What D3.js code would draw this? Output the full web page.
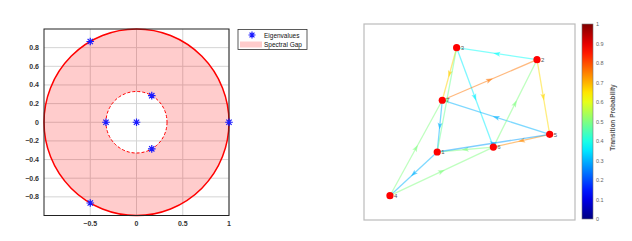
<!DOCTYPE html>
<html>
<head>
<meta charset="utf-8">
<script src="https://cdn.jsdelivr.net/npm/d3@7"></script>
<style>
  body { margin: 0; background: #fff; }
  svg { font-family: "Liberation Sans", Arial, sans-serif; }
</style>
</head>
<body>
<script>
// eigenvalues of the transition matrix (re, im)
const eigRe = [1, -0.5, -0.5, 0, -0.33, 0.165, 0.165];
const eigIm = [0, 0.866, -0.866, 0, 0, 0.285, -0.285];
const gapRadius = 0.33;
const xTicks = [-0.5, 0, 0.5, 1];
const yTicks = [-0.8, -0.6, -0.4, -0.2, 0, 0.2, 0.4, 0.6, 0.8];

// graph nodes (layout units) and edges
const nodeIds = [1, 2, 3, 4, 5, 6, 7];
const nodeX = [34.7, 82.0, 43.9, 12.3, 88.0, 61.3, 37.1];
const nodeY = [34.7, 81.8, 87.9, 12.4, 43.7, 37.2, 61.1];
const edgeFrom = [2, 2, 3, 3, 7, 7, 5, 5, 6, 6, 1, 1, 1, 4, 4];
const edgeTo   = [3, 5, 7, 6, 2, 1, 7, 6, 2, 1, 3, 5, 4, 7, 6];
const edgeProb = [0.38, 0.66, 0.67, 0.36, 0.76, 0.3, 0.3, 0.74, 0.5, 0.5, 0.48, 0.28, 0.3, 0.5, 0.5];
const cbTicks = [0, 0.1, 0.2, 0.3, 0.4, 0.5, 0.6, 0.7, 0.8, 0.9, 1];

const svg = d3.select("body").append("svg")
    .attr("width", 632)
    .attr("height", 241);

function jet(t) {
    const c = v => Math.max(0, Math.min(1, v));
    const r = c(1.5 - Math.abs(4 * t - 3));
    const g = c(1.5 - Math.abs(4 * t - 2));
    const b = c(1.5 - Math.abs(4 * t - 1));
    return d3.rgb(r * 255, g * 255, b * 255).formatHex();
}

// ---------- left: eigenvalue plot ----------
const x = d3.scaleLinear().domain([-1, 1]).range([44, 229]);
const y = d3.scaleLinear().domain([-1, 1]).range([215.5, 29]);

const left = svg.append("g");
left.append("rect")
    .attr("x", 44).attr("y", 29).attr("width", 185).attr("height", 186.5)
    .attr("fill", "#fff");

// grid
left.selectAll(".gx").data(xTicks).enter().append("line")
    .attr("x1", d => x(d)).attr("x2", d => x(d))
    .attr("y1", y(-1)).attr("y2", y(1))
    .attr("stroke", "#d4d4d4").attr("stroke-width", 1);
left.selectAll(".gy").data(yTicks).enter().append("line")
    .attr("x1", x(-1)).attr("x2", x(1))
    .attr("y1", d => y(d)).attr("y2", d => y(d))
    .attr("stroke", "#d4d4d4").attr("stroke-width", 1);

// spectral gap ring
const rx = r => x(r) - x(0);
const ry = r => y(0) - y(r);
function ellipsePath(r, reverse) {
    const a = rx(r), b = ry(r), cx = x(0), cy = y(0);
    const s = reverse ? 0 : 1;
    return `M${cx + a},${cy} A${a},${b} 0 1 ${s} ${cx - a},${cy} A${a},${b} 0 1 ${s} ${cx + a},${cy} Z`;
}
left.append("path")
    .attr("d", ellipsePath(1, false) + ellipsePath(gapRadius, true))
    .attr("fill", "rgb(255,0,0)").attr("fill-opacity", 0.2)
    .attr("fill-rule", "evenodd");
left.append("ellipse")
    .attr("cx", x(0)).attr("cy", y(0)).attr("rx", rx(1)).attr("ry", ry(1))
    .attr("fill", "none").attr("stroke", "#ff0000").attr("stroke-width", 1.5);
left.append("ellipse")
    .attr("cx", x(0)).attr("cy", y(0)).attr("rx", rx(gapRadius)).attr("ry", ry(gapRadius))
    .attr("fill", "none").attr("stroke", "#ff0000").attr("stroke-width", 1)
    .attr("stroke-dasharray", "3,2");

// axes box
left.append("rect")
    .attr("x", 44).attr("y", 29).attr("width", 185).attr("height", 186.5)
    .attr("fill", "none").attr("stroke", "#222").attr("stroke-width", 1);

// ticks
left.selectAll(".tx").data(xTicks).enter().append("text")
    .attr("x", d => x(d)).attr("y", 226)
    .attr("text-anchor", "middle")
    .attr("font-size", 7).attr("font-weight", "bold").attr("fill", "#333")
    .text(d => d3.format("")(d));
left.selectAll(".ty").data(yTicks).enter().append("text")
    .attr("x", 39).attr("y", d => y(d) + 2.5)
    .attr("text-anchor", "end")
    .attr("font-size", 7).attr("font-weight", "bold").attr("fill", "#333")
    .text(d => d3.format("")(d));

// eigenvalue markers
function star(g, cx, cy, s) {
    const d = s * 0.7;
    g.append("path")
        .attr("d", `M${cx - s},${cy}L${cx + s},${cy}M${cx},${cy - s}L${cx},${cy + s}` +
            `M${cx - d},${cy - d}L${cx + d},${cy + d}M${cx - d},${cy + d}L${cx + d},${cy - d}`)
        .attr("stroke", "#1a1aff").attr("stroke-width", 1.2).attr("fill", "none");
}
eigRe.forEach((re, i) => star(left, x(re), y(eigIm[i]), 3.8));

// legend
const lg = svg.append("g");
lg.append("rect")
    .attr("x", 238).attr("y", 29.5).attr("width", 69).attr("height", 20)
    .attr("fill", "#fff").attr("stroke", "#333").attr("stroke-width", 0.8);
star(lg, 252, 35, 3.5);
lg.append("text").attr("x", 264).attr("y", 37.5)
    .attr("font-size", 6.5).attr("fill", "#111").text("Eigenvalues");
lg.append("rect")
    .attr("x", 240).attr("y", 41.5).attr("width", 22).attr("height", 6)
    .attr("fill", "rgb(255,0,0)").attr("fill-opacity", 0.2);
lg.append("text").attr("x", 264).attr("y", 46.5)
    .attr("font-size", 6.5).attr("fill", "#111").text("Spectral Gap");

// ---------- right: transition graph ----------
const gx = d3.scaleLinear().domain([0, 100]).range([364, 575]);
const gy = d3.scaleLinear().domain([0, 100]).range([220, 24]);

const right = svg.append("g");
right.append("rect")
    .attr("x", 364).attr("y", 24).attr("width", 211).attr("height", 196)
    .attr("fill", "#fff").attr("stroke", "#bbb").attr("stroke-width", 1.2);

const pos = id => {
    const i = nodeIds.indexOf(id);
    return [gx(nodeX[i]), gy(nodeY[i])];
};

edgeFrom.forEach((f, i) => {
    const [x1, y1] = pos(f);
    const [x2, y2] = pos(edgeTo[i]);
    const col = jet(edgeProb[i]);
    right.append("line")
        .attr("x1", x1).attr("y1", y1).attr("x2", x2).attr("y2", y2)
        .attr("stroke", col).attr("stroke-width", 1.3).attr("stroke-opacity", 0.5);
    // arrowhead at middle
    const mx = (x1 + x2) / 2, my = (y1 + y2) / 2;
    const ang = Math.atan2(y2 - y1, x2 - x1) * 180 / Math.PI;
    right.append("path")
        .attr("d", "M3.5,0L-3.5,-2.5L-2,0L-3.5,2.5Z")
        .attr("transform", `translate(${mx},${my}) rotate(${ang})`)
        .attr("fill", col).attr("fill-opacity", 0.6);
});

nodeIds.forEach((id, i) => {
    right.append("circle")
        .attr("cx", gx(nodeX[i])).attr("cy", gy(nodeY[i])).attr("r", 3.6)
        .attr("fill", "#ff0000");
    right.append("text")
        .attr("x", gx(nodeX[i]) + 4).attr("y", gy(nodeY[i]) + 2.2)
        .attr("font-size", 6).attr("fill", "#555").text(id);
});

// colorbar
const cb = d3.scaleLinear().domain([0, 1]).range([219, 24]);
const defs = svg.append("defs");
const grad = defs.append("linearGradient").attr("id", "jet")
    .attr("x1", 0).attr("y1", 1).attr("x2", 0).attr("y2", 0);
d3.range(0, 1.0001, 0.05).forEach(t => {
    grad.append("stop").attr("offset", t).attr("stop-color", jet(t));
});
svg.append("rect")
    .attr("x", 582).attr("y", cb(1)).attr("width", 11).attr("height", cb(0) - cb(1))
    .attr("fill", "url(#jet)").attr("stroke", "#777").attr("stroke-width", 0.6);
svg.selectAll(".cbt").data(cbTicks).enter().append("text")
    .attr("x", 596).attr("y", d => cb(d) + 2)
    .attr("font-size", 5.5).attr("fill", "#666")
    .text(d => d3.format("")(d));
svg.append("text")
    .attr("transform", `translate(615,${(cb(0) + cb(1)) / 2 - 4}) rotate(-90)`)
    .attr("text-anchor", "middle")
    .attr("font-size", 6.5).attr("font-weight", "bold").attr("fill", "#555")
    .text("Transition Probability");
</script>
</body>
</html>
